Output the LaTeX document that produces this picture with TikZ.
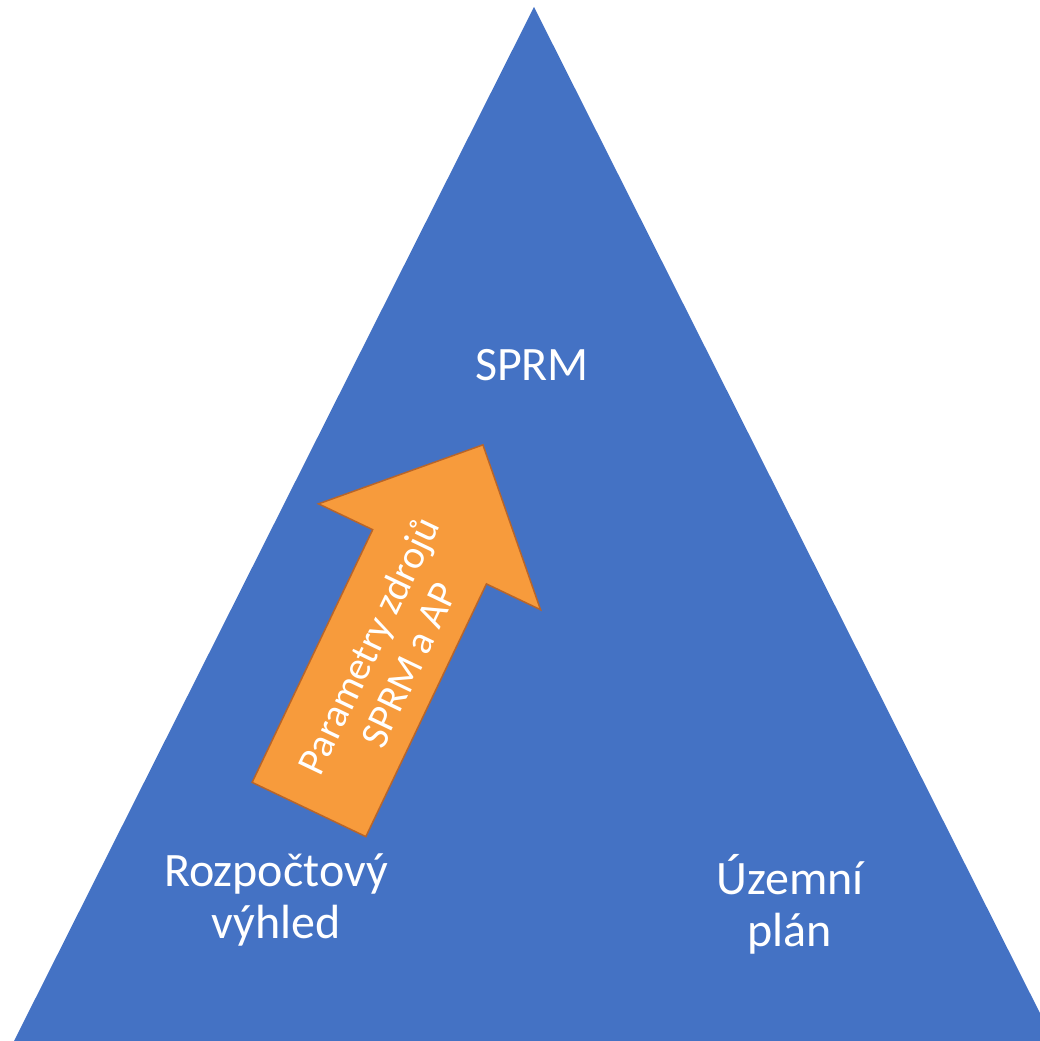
\documentclass[tikz,border=0pt]{standalone}
\usepackage{fontspec}
\setmainfont{Carlito}
\definecolor{triblue}{HTML}{4472C4}
\definecolor{arrfill}{HTML}{F79B3C}
\definecolor{arredge}{HTML}{B8652A}
\begin{document}
\begin{tikzpicture}[x=1pt,y=1pt,
  lbl/.style={text=white, font=\fontsize{48}{52}\selectfont, align=center, inner sep=0pt},
  arrlbl/.style={text=white, font=\fontsize{40}{45}\selectfont, align=center, inner sep=0pt}]
\useasboundingbox (0,0) rectangle (1040,1041);
\clip (0,0) rectangle (1040,1041);
\fill[triblue] (534,1034) -- (14,0) -- (1054,0) -- cycle;
\begin{scope}[shift={(309,231.5)}, rotate=64.5]
\draw[fill=arrfill, draw=arredge, line width=1.5pt, line join=miter]
  (0,-63) -- (280,-63) -- (280,-123) -- (404,0) -- (280,123) -- (280,63) -- (0,63) -- cycle;
\end{scope}
\node[arrlbl, rotate=64.5] (arrtext) at (388,386) {Parametry zdrojů\\SPRM a AP};
\node[lbl] (sprm) at (532,676) {SPRM};
\node[lbl] (rozp) at (276,141) {Rozpočtový\\výhled};
\node[lbl] (uzem) at (790,137) {Územní\\plán};
\end{tikzpicture}
\end{document}
